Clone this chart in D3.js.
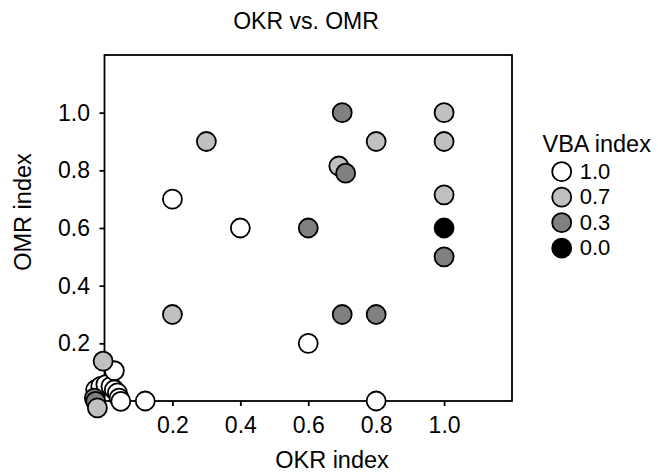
<!DOCTYPE html>
<html>
<head>
<meta charset="utf-8">
<script src="https://cdn.jsdelivr.net/npm/d3@7"></script>
<style>
  html, body { margin: 0; padding: 0; background: #fff; }
  svg { display: block; font-family: "Liberation Sans", Arial, sans-serif; }
</style>
</head>
<body>
<svg id="chart" width="658" height="474"></svg>
<script>
// ---- Data ----
const okr = [ -0.026, -0.011, 0.004, 0.019, 0.029, 0.038, 0.043, 0.048, 0.029, 0.12, 0.2, 0.4, 0.6, 0.8,
              -0.004, 0.3, 0.2, 0.69, 0.8, 1.0, 1.0, 1.0,
              -0.030, -0.026, 0.6, 0.7, 0.71, 0.7, 0.8, 1.0,
              1.0,
              -0.021 ];
const omr = [ 0.039, 0.051, 0.057, 0.051, 0.039, 0.028, 0.010, -0.001, 0.105, 0.0, 0.7, 0.6, 0.2, 0.0,
              0.138, 0.9, 0.3, 0.815, 0.9, 1.0, 0.9, 0.715,
              0.010, -0.001, 0.6, 1.0, 0.79, 0.3, 0.3, 0.5,
              0.6,
              -0.024 ];
const vba = [ 1.0, 1.0, 1.0, 1.0, 1.0, 1.0, 1.0, 1.0, 1.0, 1.0, 1.0, 1.0, 1.0, 1.0,
              0.7, 0.7, 0.7, 0.7, 0.7, 0.7, 0.7, 0.7,
              0.3, 0.3, 0.3, 0.3, 0.3, 0.3, 0.3, 0.3,
              0.0,
              0.7 ];
const vbaLevels = [1.0, 0.7, 0.3, 0.0];
const vbaLabels = ["1.0", "0.7", "0.3", "0.0"];
const vbaColors = ["#ffffff", "#c0c0c0", "#808080", "#000000"];
const xTicks = [0.2, 0.4, 0.6, 0.8, 1.0];
const yTicks = [0.2, 0.4, 0.6, 0.8, 1.0];

const title = "OKR vs. OMR";
const xLabel = "OKR index";
const yLabel = "OMR index";
const legendTitle = "VBA index";

// ---- Layout ----
const svg = d3.select("#chart");
const pLeft = 104.5, pRight = 512, pTop = 55, pBottom = 401;

const x = d3.scaleLinear().domain([0, 1.2]).range([pLeft, pRight]);
const y = d3.scaleLinear().domain([0, 1.2]).range([pBottom, pTop]);
const color = d3.scaleOrdinal().domain(vbaLevels).range(vbaColors);

// frame (box)
svg.append("rect")
  .attr("x", pLeft).attr("y", pTop)
  .attr("width", pRight - pLeft).attr("height", pBottom - pTop)
  .attr("fill", "none").attr("stroke", "#000").attr("stroke-width", 1.8);

// axes
const fmt = d3.format(".1f");
const xAxis = svg.append("g")
  .attr("transform", `translate(0,${pBottom})`)
  .call(d3.axisBottom(x).tickValues(xTicks).tickFormat(fmt).tickSize(5).tickPadding(11));
const yAxis = svg.append("g")
  .attr("transform", `translate(${pLeft},0)`)
  .call(d3.axisLeft(y).tickValues(yTicks).tickFormat(fmt).tickSize(5).tickPadding(9.5));
[xAxis, yAxis].forEach(g => {
  g.select(".domain").remove();
  g.selectAll(".tick line").attr("stroke", "#000").attr("stroke-width", 1.8);
  g.selectAll(".tick text")
    .attr("fill", "#000")
    .style("font-family", '"Liberation Sans", Arial, sans-serif')
    .style("font-size", "23px");
});

// points
const pts = okr.map((d, i) => ({ x: d, y: omr[i], v: vba[i] }));
svg.append("g").selectAll("circle")
  .data(pts)
  .join("circle")
  .attr("cx", d => x(d.x))
  .attr("cy", d => y(d.y))
  .attr("r", 9.5)
  .attr("fill", d => color(d.v))
  .attr("stroke", "#000")
  .attr("stroke-width", 1.8);

// title and axis labels
svg.append("text")
  .attr("x", 306).attr("y", 29)
  .attr("text-anchor", "middle")
  .style("font-size", "23px")
  .text(title);
svg.append("text")
  .attr("x", 332).attr("y", 468)
  .attr("text-anchor", "middle")
  .style("font-size", "23.5px")
  .text(xLabel);
svg.append("text")
  .attr("transform", "translate(31,212) rotate(-90)")
  .attr("text-anchor", "middle")
  .style("font-size", "23.5px")
  .text(yLabel);

// legend
svg.append("text")
  .attr("x", 542.5).attr("y", 151.5)
  .style("font-size", "23.5px")
  .text(legendTitle);
const lg = svg.append("g").selectAll("g")
  .data(vbaLevels)
  .join("g")
  .attr("transform", (d, i) => `translate(561.7,${171.7 + i * 25.5})`);
lg.append("circle")
  .attr("r", 9.5)
  .attr("fill", d => color(d))
  .attr("stroke", "#000")
  .attr("stroke-width", 1.8);
lg.append("text")
  .attr("x", 18).attr("y", 7)
  .style("font-size", "22px")
  .text((d, i) => vbaLabels[i]);
</script>
</body>
</html>
